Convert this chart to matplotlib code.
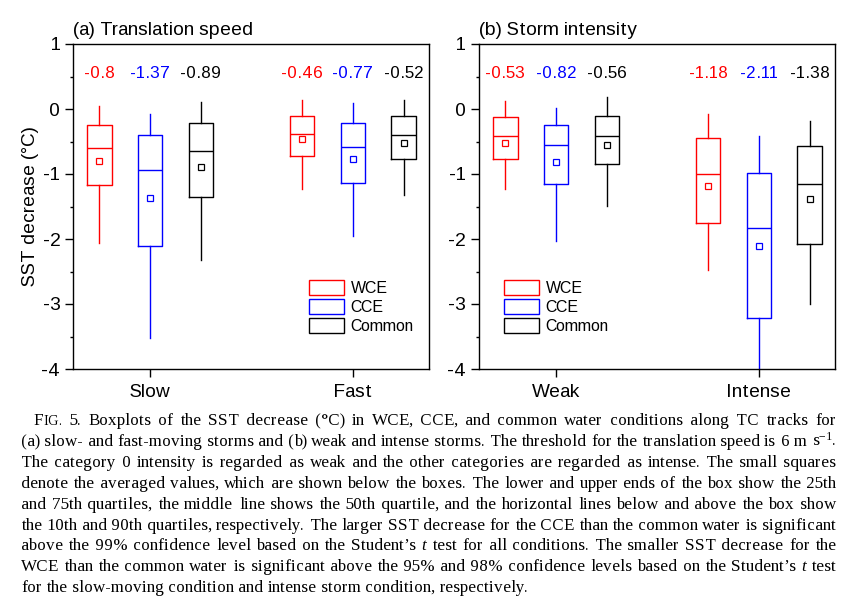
import matplotlib
matplotlib.use("Agg")
import matplotlib.pyplot as plt
from matplotlib.patches import Patch
from matplotlib.ticker import MultipleLocator

plt.rcParams["font.family"] = ["Liberation Sans", "DejaVu Sans"]
plt.rcParams["mathtext.fontset"] = "custom"
plt.rcParams["mathtext.rm"] = "Liberation Serif"
plt.rcParams["mathtext.it"] = "Liberation Serif:italic"
plt.rcParams["text.hinting_factor"] = 1

# ── data ───────────────────────────────────────────────────────────
GROUPS = ["WCE", "CCE", "Common"]
COLORS = ["#FF0000", "#0000FF", "#000000"]

# (a) translation speed : rows = WCE, CCE, Common ; cols = Slow, Fast
SPEED_CATS = ["Slow", "Fast"]
SPEED_P90 = [[0.04, 0.14], [-0.07, 0.09], [0.11, 0.14]]
SPEED_Q75 = [[-0.24, -0.10], [-0.40, -0.22], [-0.21, -0.11]]
SPEED_MED = [[-0.60, -0.38], [-0.94, -0.58], [-0.64, -0.40]]
SPEED_Q25 = [[-1.17, -0.73], [-2.11, -1.14], [-1.35, -0.77]]
SPEED_P10 = [[-2.06, -1.23], [-3.53, -1.96], [-2.33, -1.32]]
SPEED_MEAN = [[-0.80, -0.46], [-1.37, -0.77], [-0.89, -0.52]]

# (b) storm intensity : cols = Weak, Intense
INTEN_CATS = ["Weak", "Intense"]
INTEN_P90 = [[0.12, -0.07], [0.01, -0.41], [0.18, -0.18]]
INTEN_Q75 = [[-0.12, -0.45], [-0.24, -0.98], [-0.10, -0.57]]
INTEN_MED = [[-0.42, -1.00], [-0.56, -1.83], [-0.42, -1.15]]
INTEN_Q25 = [[-0.77, -1.75], [-1.16, -3.22], [-0.85, -2.07]]
INTEN_P10 = [[-1.23, -2.47], [-2.03, -4.02], [-1.49, -3.00]]
INTEN_MEAN = [[-0.53, -1.18], [-0.82, -2.11], [-0.56, -1.38]]

CAPTION_LINES = [
    "FIG. 5. Boxplots of the SST decrease (°C) in WCE, CCE, and common water conditions along TC tracks for",
    "(a) slow- and fast-moving storms and (b) weak and intense storms. The threshold for the translation speed is 6 m s$^{-1}$.",
    "The category 0 intensity is regarded as weak and the other categories are regarded as intense. The small squares",
    "denote the averaged values, which are shown below the boxes. The lower and upper ends of the box show the 25th",
    "and 75th quartiles, the middle line shows the 50th quartile, and the horizontal lines below and above the box show",
    "the 10th and 90th quartiles, respectively. The larger SST decrease for the CCE than the common water is significant",
    "above the 99% confidence level based on the Student’s t test for all conditions. The smaller SST decrease for the",
    "WCE than the common water is significant above the 95% and 98% confidence levels based on the Student’s t test",
    "for the slow-moving condition and intense storm condition, respectively.",
]

W_PX, H_PX = 852, 607
OFFSETS = [-0.25, 0.0, 0.25]
BOX_W = 0.12


def draw_panel(ax, title, cats, p90, q75, med, q25, p10, means, legend_x):
    for g, (name, c) in enumerate(zip(GROUPS, COLORS)):
        stats, pos = [], []
        for k in range(len(cats)):
            stats.append(dict(whislo=p10[g][k], q1=q25[g][k], med=med[g][k],
                              q3=q75[g][k], whishi=p90[g][k], mean=means[g][k],
                              fliers=[], label=name))
            pos.append(k + 1 + OFFSETS[g])
        line = dict(color=c, linewidth=1.0)
        ax.bxp(stats, positions=pos, widths=BOX_W, showmeans=True, showcaps=False,
               boxprops=line, whiskerprops=line, medianprops=line,
               meanprops=dict(marker="s", markerfacecolor="none", markeredgecolor=c,
                              markersize=4, markeredgewidth=0.9),
               manage_ticks=False)
        for k, p in enumerate(pos):
            ax.text(p, 0.54, f"{means[g][k]:g}", color=c, fontsize=12.5,
                    ha="center", va="center")

    ax.set_xlim(0.62, 2.375)
    ax.set_ylim(-4, 1)
    ax.set_xticks([1, 2])
    ax.set_xticklabels(cats, fontsize=13.5)
    ax.set_yticks(range(-4, 2))
    ax.set_yticklabels([str(v) for v in range(-4, 2)], fontsize=13.5)
    ax.yaxis.set_minor_locator(MultipleLocator(0.5))
    ax.tick_params(axis="both", which="major", direction="out", length=6, width=1, pad=3)
    ax.tick_params(axis="x", which="major", pad=5)
    ax.tick_params(axis="y", which="minor", direction="out", length=2.5, width=1)
    ax.tick_params(axis="x", which="minor", bottom=False)
    for s in ax.spines.values():
        s.set_linewidth(1.0)
    ax.set_title(title, loc="left", fontsize=14, pad=6.5)

    handles = [Patch(facecolor="none", edgecolor=c, linewidth=1.0) for c in COLORS]
    ax.legend(handles, GROUPS, loc="upper left", bbox_to_anchor=(legend_x, 0.274),
              frameon=False, fontsize=11.5, handlelength=2.2, handleheight=1.05,
              labelspacing=0.2, handletextpad=0.4, borderpad=0, borderaxespad=0)


def put_caption(fig):
    # justified caption: every word is its own text, spread over the line width
    r = fig.canvas.get_renderer()
    specials = {
        "FIG.": [("F", 1.0, "normal"), ("IG.", 0.78, "normal")],
        "t": [("t", 1.0, "italic")],
        "(b)": [("(", 1.0, "normal"), ("b", 1.0, "normal"), (")", 1.0, "normal")],
    }
    base_fs = 12.5
    left, first_left, right = 21, 33, 836
    top, step = 420, 20.9
    rows = []
    for i, line in enumerate(CAPTION_LINES):
        base_px = round(top + step * i + 5)      # whole-pixel baseline
        yb = (H_PX - base_px) / H_PX
        words = []
        for w in line.split(" "):
            segs = specials.get(w, [(w, 1.0, "normal")])
            words.append([(fig.text(0, yb, s, fontsize=base_fs * f, style=st,
                                    family="Liberation Serif", va="baseline"), f)
                          for s, f, st in segs])
        rows.append(words)

    def measure():
        return [[[t.get_window_extent(r).width for t, _ in w] for w in words] for words in rows]

    # shrink the font if a justified line would not fit
    widths = measure()
    scale = 1.0
    for i, (words, ws) in enumerate(zip(rows[:-1], widths[:-1])):
        x0 = first_left if i == 0 else left
        total = sum(sum(x) for x in ws)
        need = total + (len(words) - 1) * 0.15 * base_fs * 100 / 72
        scale = min(scale, (right - x0) / need)
    if scale < 1.0:
        for words in rows:
            for w in words:
                for t, f in w:
                    t.set_fontsize(base_fs * scale * f)
        widths = measure()

    space = 0.25 * base_fs * scale * 100 / 72
    for i, (words, ws) in enumerate(zip(rows, widths)):
        x0 = first_left if i == 0 else left
        total = sum(sum(x) for x in ws)
        if i == len(rows) - 1:
            gap = space
        else:
            gap = (right - x0 - total) / (len(words) - 1)
        x = x0
        for w, wl in zip(words, ws):
            for (t, _), tw in zip(w, wl):
                t.set_x(round(x) / W_PX)
                x += tw
            x += gap


fig = plt.figure(figsize=(W_PX / 100, H_PX / 100), dpi=100)
ax_a = fig.add_axes([73 / W_PX, 1 - 369 / H_PX, 356 / W_PX, 325 / H_PX])
ax_b = fig.add_axes([479 / W_PX, 1 - 369 / H_PX, 356 / W_PX, 325 / H_PX])

draw_panel(ax_a, "(a) Translation speed", SPEED_CATS, SPEED_P90, SPEED_Q75,
           SPEED_MED, SPEED_Q25, SPEED_P10, SPEED_MEAN, legend_x=0.663)
draw_panel(ax_b, "(b) Storm intensity", INTEN_CATS, INTEN_P90, INTEN_Q75,
           INTEN_MED, INTEN_Q25, INTEN_P10, INTEN_MEAN, legend_x=0.07)
ax_a.set_ylabel("SST decrease (°C)", fontsize=14, labelpad=2)

put_caption(fig)

fig.savefig("out.png", dpi=100)
